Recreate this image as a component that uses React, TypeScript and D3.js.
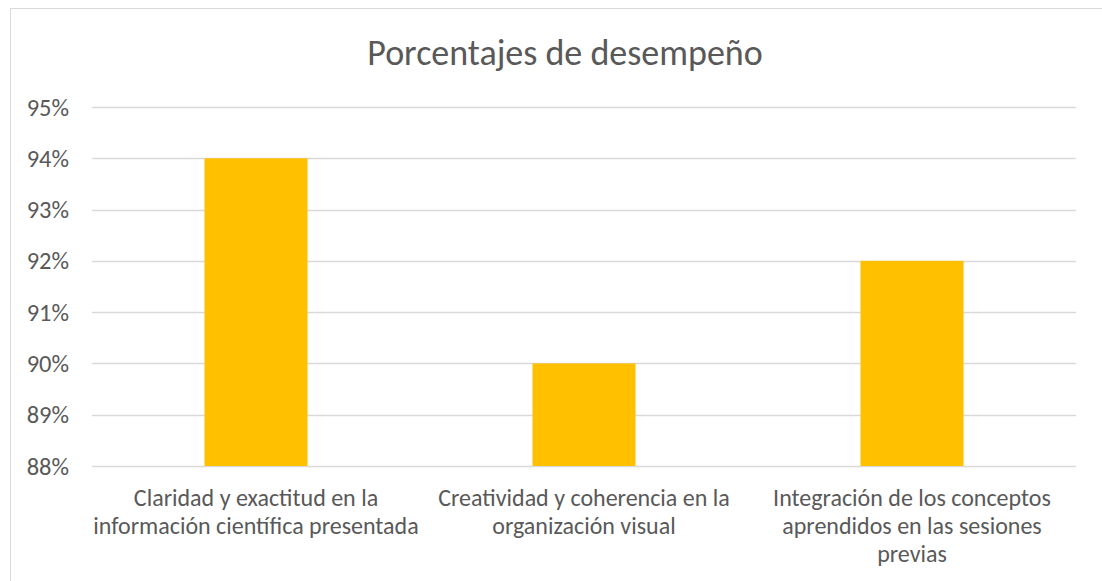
import React, { useEffect, useRef } from 'react';
import * as d3 from 'd3';

const categories = [
  ['Claridad y exactitud en la', 'información científica presentada'],
  ['Creatividad y coherencia en la', 'organización visual'],
  ['Integración de los conceptos', 'aprendidos en las sesiones', 'previas'],
];
const values = [0.94, 0.9, 0.92];
const yTicks = [0.88, 0.89, 0.9, 0.91, 0.92, 0.93, 0.94, 0.95];

const W = 1102;
const H = 581;
const FONT = 'Carlito, Lato, sans-serif';

export default function App() {
  const svgRef = useRef<SVGSVGElement>(null);

  useEffect(() => {
    if (!svgRef.current) return;
    const svg = d3.select(svgRef.current);
    svg.selectAll('*').remove();

    const left = 92;
    const right = 1076;
    const top = 107;
    const bottom = 466;

    // chart frame
    svg.append('rect')
      .attr('x', 10.5)
      .attr('y', 8.5)
      .attr('width', W)
      .attr('height', H)
      .attr('fill', '#fff')
      .attr('stroke', '#d9d9d9')
      .attr('stroke-width', 1);

    const x = d3.scaleBand<number>()
      .domain(values.map((_, i) => i))
      .range([left, right])
      .paddingInner(0.686)
      .paddingOuter(0.343);

    const y = d3.scaleLinear().domain([0.88, 0.95]).range([bottom, top]);

    // gridlines
    svg.append('g')
      .selectAll('line')
      .data(yTicks)
      .enter()
      .append('line')
      .attr('x1', left)
      .attr('x2', right)
      .attr('y1', d => Math.round(y(d)) + 0.5)
      .attr('y2', d => Math.round(y(d)) + 0.5)
      .attr('stroke', '#d9d9d9')
      .attr('stroke-width', 1.3);

    // y labels
    svg.append('g')
      .selectAll('text')
      .data(yTicks)
      .enter()
      .append('text')
      .attr('x', 69)
      .attr('y', d => y(d))
      .attr('dy', '0.35em')
      .attr('text-anchor', 'end')
      .attr('fill', '#595959')
      .style('font-family', FONT)
      .style('font-size', '24.5px')
      .text(d => d3.format('.0%')(d));

    // bars
    svg.append('g')
      .selectAll('rect')
      .data(values)
      .enter()
      .append('rect')
      .attr('x', (_, i) => x(i)!)
      .attr('y', d => y(d))
      .attr('width', x.bandwidth())
      .attr('height', d => bottom - y(d))
      .attr('fill', '#FFC000');

    // category labels
    const step = x.step();
    const cat = svg.append('g')
      .selectAll('text')
      .data(categories)
      .enter()
      .append('text')
      .attr('text-anchor', 'middle')
      .attr('fill', '#595959')
      .style('font-family', FONT)
      .style('font-size', '24px');
    cat.each(function (lines, i) {
      const cx = left + step * (i + 0.5);
      d3.select(this)
        .selectAll('tspan')
        .data(lines)
        .enter()
        .append('tspan')
        .attr('x', cx)
        .attr('y', (_, j) => 506 + j * 28)
        .text(d => d);
    });

    // title
    svg.append('text')
      .attr('x', 565)
      .attr('y', 65)
      .attr('text-anchor', 'middle')
      .attr('fill', '#595959')
      .style('font-family', FONT)
      .style('font-size', '36px')
      .text('Porcentajes de desempeño');
  }, []);

  return (
    <svg
      ref={svgRef}
      width={W}
      height={H}
      style={{ position: 'absolute', left: 0, top: 0, display: 'block' }}
    />
  );
}
